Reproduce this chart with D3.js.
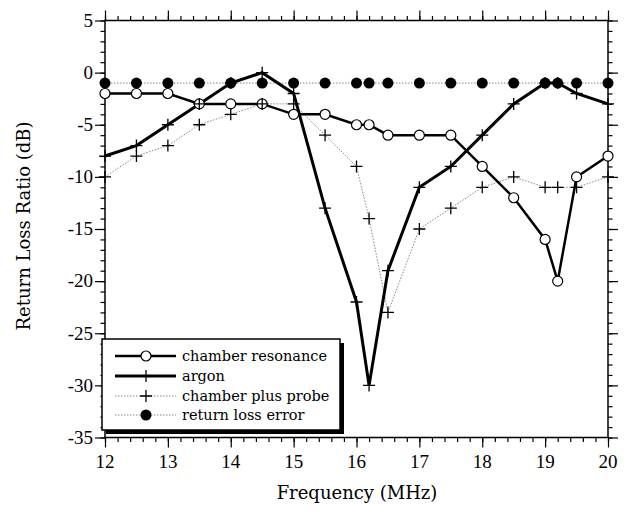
<!DOCTYPE html>
<html lang="en">
<head>
<meta charset="UTF-8">
<title>Return Loss Ratio</title>
<script src="https://d3js.org/d3.v7.min.js"></script>
<style>
  body { margin: 0; background: #fff; }
  .tick-label { font-family: 'Liberation Serif', serif; font-size: 19px; fill: #000; }
  .title { font-family: 'DejaVu Serif', serif; font-size: 18px; fill: #000; }
  .legend-text { font-family: 'DejaVu Serif', serif; font-size: 14.5px; fill: #000; }
</style>
</head>
<body>
<script>
var freq = [12, 12.5, 13, 13.5, 14, 14.5, 15, 15.5, 16, 16.2, 16.5, 17, 17.5, 18, 18.5, 19, 19.2, 19.5, 20];
var chamberResonance = [-2, -2, -2, -3, -3, -3, -4, -4, -5, -5, -6, -6, -6, -9, -12, -16, -20, -10, -8];
var argon = [-8, -7, -5, -3, -1, 0, -2, -13, -22, -30, -19, -11, -9, -6, -3, -1, -1, -2, -3];
var chamberPlusProbe = [-10, -8, -7, -5, -4, -3, -3, -6, -9, -14, -23, -15, -13, -11, -10, -11, -11, -11, -10];
var returnLossError = [-1, -1, -1, -1, -1, -1, -1, -1, -1, -1, -1, -1, -1, -1, -1, -1, -1, -1, -1];
var xTicks = [12, 13, 14, 15, 16, 17, 18, 19, 20];
var yTicks = [5, 0, -5, -10, -15, -20, -25, -30, -35];
var legendNames = ["chamber resonance", "argon", "chamber plus probe", "return loss error"];

var width = 629, height = 512;
var plotLeft = 105, plotRight = 608, plotTop = 20.5, plotBottom = 437.5;

var svg = d3.select("body").append("svg").attr("width", width).attr("height", height);

var x = d3.scaleLinear().domain([12, 20]).range([plotLeft, plotRight]);
var y = d3.scaleLinear().domain([-35, 5]).range([plotBottom, plotTop]);

function pts(vals) { return freq.map(function(f, i) { return [f, vals[i]]; }); }
var line = d3.line().x(function(d) { return x(d[0]); }).y(function(d) { return y(d[1]); });

// axes: ticks point outward
function drawAxis(axisFn, scale, transform, major, minor) {
  var g = svg.append("g").attr("transform", transform);
  g.call(axisFn(scale).tickValues(minor).tickSize(4.5).tickFormat(""));
  g.append("g").call(axisFn(scale).tickValues(major).tickSize(10).tickFormat(""));
  g.selectAll("path.domain").remove();
  g.selectAll("line").attr("stroke", "#000").attr("stroke-width", 1.2);
  g.selectAll("text").remove();
}
var xMinor = d3.range(12, 20.01, 0.2);
var yMinor = d3.range(-35, 5.01, 1);
drawAxis(d3.axisBottom, x, "translate(0," + plotBottom + ")", xTicks, xMinor);
drawAxis(d3.axisTop, x, "translate(0," + plotTop + ")", xTicks, xMinor);
drawAxis(d3.axisLeft, y, "translate(" + plotLeft + ",0)", yTicks, yMinor);
drawAxis(d3.axisRight, y, "translate(" + plotRight + ",0)", yTicks, yMinor);

svg.append("rect").attr("x", plotLeft).attr("y", plotTop)
  .attr("width", plotRight - plotLeft).attr("height", plotBottom - plotTop)
  .attr("fill", "none").attr("stroke", "#000").attr("stroke-width", 1.5);

svg.selectAll(".xl").data(xTicks).enter().append("text")
  .attr("class", "tick-label").attr("x", function(d) { return x(d); }).attr("y", 468)
  .attr("text-anchor", "middle").text(function(d) { return d; });
svg.selectAll(".yl").data(yTicks).enter().append("text")
  .attr("class", "tick-label").attr("x", 93).attr("y", function(d) { return y(d); })
  .attr("dy", "0.33em").attr("text-anchor", "end").text(function(d) { return d; });

svg.append("text").attr("class", "title").attr("x", 357).attr("y", 499)
  .attr("text-anchor", "middle").text("Frequency (MHz)");
svg.append("text").attr("class", "title")
  .attr("transform", "translate(30,226) rotate(-90)")
  .attr("text-anchor", "middle").text("Return Loss Ratio (dB)");

// lines
var dotted = { stroke: "#888", width: 1, dash: "1.5,1.5" };
svg.append("path").attr("d", line(pts(returnLossError))).attr("fill", "none")
  .attr("stroke", dotted.stroke).attr("stroke-width", dotted.width).attr("stroke-dasharray", dotted.dash);
svg.append("path").attr("d", line(pts(chamberPlusProbe))).attr("fill", "none")
  .attr("stroke", dotted.stroke).attr("stroke-width", dotted.width).attr("stroke-dasharray", dotted.dash);
svg.append("path").attr("d", line(pts(chamberResonance))).attr("fill", "none")
  .attr("stroke", "#000").attr("stroke-width", 2.5);
svg.append("path").attr("d", line(pts(argon))).attr("fill", "none")
  .attr("stroke", "#000").attr("stroke-width", 3);

// markers
function plus(g, data) {
  g.selectAll(null).data(data).enter().append("path")
    .attr("d", function(d) { var cx = x(d[0]), cy = y(d[1]);
      return "M" + (cx - 6) + "," + cy + "H" + (cx + 6) + "M" + cx + "," + (cy - 6) + "V" + (cy + 6); })
    .attr("stroke", "#000").attr("stroke-width", 1.3).attr("fill", "none");
}
var mk = svg.append("g");
mk.selectAll(null).data(pts(chamberResonance)).enter().append("circle")
  .attr("cx", function(d) { return x(d[0]); }).attr("cy", function(d) { return y(d[1]); })
  .attr("r", 5).attr("fill", "#fff").attr("stroke", "#000").attr("stroke-width", 1.2);
plus(mk, pts(chamberPlusProbe));
plus(mk, pts(argon));
mk.selectAll(null).data(pts(returnLossError)).enter().append("circle")
  .attr("cx", function(d) { return x(d[0]); }).attr("cy", function(d) { return y(d[1]); })
  .attr("r", 5.5).attr("fill", "#000");

// legend
var lg = svg.append("g");
lg.append("rect").attr("x", 106).attr("y", 343).attr("width", 238).attr("height", 91).attr("fill", "#000");
lg.append("rect").attr("x", 102).attr("y", 339).attr("width", 238).attr("height", 91)
  .attr("fill", "#fff").attr("stroke", "#000").attr("stroke-width", 1.5);
var rowY = [356, 376, 396, 415];
var sx0 = 115, sx1 = 176, smid = 146;
lg.append("line").attr("x1", sx0).attr("x2", sx1).attr("y1", rowY[0]).attr("y2", rowY[0]).attr("stroke", "#000").attr("stroke-width", 2.5);
lg.append("circle").attr("cx", smid).attr("cy", rowY[0]).attr("r", 5).attr("fill", "#fff").attr("stroke", "#000").attr("stroke-width", 1.2);
lg.append("line").attr("x1", sx0).attr("x2", sx1).attr("y1", rowY[1]).attr("y2", rowY[1]).attr("stroke", "#000").attr("stroke-width", 3);
lg.append("path").attr("d", "M" + smid + "," + (rowY[1] - 6) + "V" + (rowY[1] + 6)).attr("stroke", "#000").attr("stroke-width", 1.3);
lg.append("line").attr("x1", sx0).attr("x2", sx1).attr("y1", rowY[2]).attr("y2", rowY[2])
  .attr("stroke", dotted.stroke).attr("stroke-width", 1).attr("stroke-dasharray", dotted.dash);
lg.append("path").attr("d", "M" + (smid - 6) + "," + rowY[2] + "H" + (smid + 6) + "M" + smid + "," + (rowY[2] - 6) + "V" + (rowY[2] + 6))
  .attr("stroke", "#000").attr("stroke-width", 1.3);
lg.append("line").attr("x1", sx0).attr("x2", sx1).attr("y1", rowY[3]).attr("y2", rowY[3])
  .attr("stroke", dotted.stroke).attr("stroke-width", 1).attr("stroke-dasharray", dotted.dash);
lg.append("circle").attr("cx", smid).attr("cy", rowY[3]).attr("r", 5.5).attr("fill", "#000");
lg.selectAll(null).data(legendNames).enter().append("text")
  .attr("class", "legend-text").attr("x", 182).attr("y", function(d, i) { return rowY[i]; })
  .attr("dy", "0.32em").text(function(d) { return d; });
</script>
</body>
</html>
